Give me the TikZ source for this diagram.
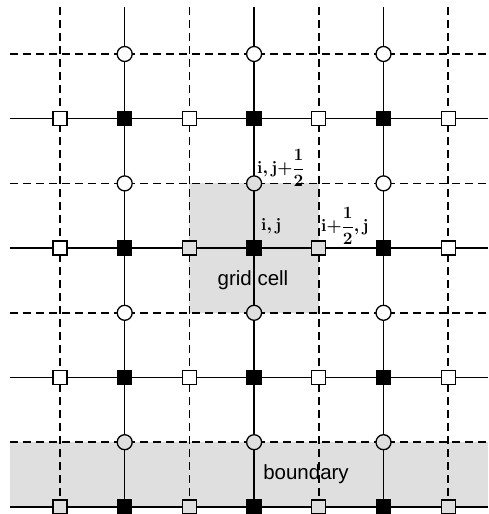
\documentclass[tikz,border=0pt]{standalone}
\usepackage[no-math]{fontspec}
\setmainfont{Liberation Sans}
\usepackage{amsmath}
\begin{document}
\begin{tikzpicture}[x=1pt,y=-1pt,
  solidline/.style={line width=1.5pt},
  dashline/.style={line width=1.5pt,dash pattern=on 8pt off 5pt},
  sq/.style={draw,line width=1.3pt,minimum size=14pt,inner sep=0pt,rectangle,fill=white},
  sqgray/.style={sq,fill=gray!25},
  sqblack/.style={sq,fill=black},
  circ/.style={draw,line width=1.3pt,minimum size=15pt,inner sep=0pt,circle,fill=white},
  circgray/.style={circ,fill=gray!25},
  lbl/.style={font=\fontsize{20.5}{24}\selectfont,inner sep=0pt},
  mlbl/.style={font=\fontsize{16}{19}\selectfont\boldmath,inner sep=0pt}
]
\useasboundingbox (0,0) rectangle (488,514);
\def\dx{64.7}
% grey areas
\fill[gray!25] (189.4,183.4) rectangle (318.8,312.8);
\fill[gray!25] (10,442.2) rectangle (488,506.9);
% dashed verticals and dashed horizontals
\foreach \i in {0,2,4,6} {
  \coordinate (dvt\i) at ({60+\i*\dx},7);
  \coordinate (dvb\i) at ({60+\i*\dx},506.9);
  \draw[dashline] (dvt\i) -- (dvb\i);
  \coordinate (dhl\i) at (10,{54+\i*\dx});
  \coordinate (dhr\i) at (488,{54+\i*\dx});
  \draw[dashline] (dhl\i) -- (dhr\i);
}
% solid verticals and solid horizontals
\foreach \i in {1,3,5} {
  \coordinate (svt\i) at ({60+\i*\dx},7);
  \coordinate (svb\i) at ({60+\i*\dx},506.9);
  \draw[solidline] (svt\i) -- (svb\i);
}
\foreach \j in {1,3,5,7} {
  \coordinate (shl\j) at (10,{54+\j*\dx});
  \coordinate (shr\j) at (488,{54+\j*\dx});
  \draw[solidline] (shl\j) -- (shr\j);
}
% black squares
\foreach \i in {1,3,5} \foreach \j in {1,3,5,7}
  \node[sqblack] (b\i\j) at ({60+\i*\dx},{54+\j*\dx}) {};
% open squares
\foreach \i in {0,2,4,6} \foreach \j in {1,3,5} {
  \ifnum\j=3
    \ifnum\i=2 \node[sqgray] (s\i\j) at ({60+\i*\dx},{54+\j*\dx}) {};
    \else\ifnum\i=4 \node[sqgray] (s\i\j) at ({60+\i*\dx},{54+\j*\dx}) {};
    \else \node[sq] (s\i\j) at ({60+\i*\dx},{54+\j*\dx}) {};
    \fi\fi
  \else
    \node[sq] (s\i\j) at ({60+\i*\dx},{54+\j*\dx}) {};
  \fi
}
\foreach \i in {0,2,4,6}
  \node[sqgray] (s\i7) at ({60+\i*\dx},{54+7*\dx}) {};
% circles
\foreach \i in {1,3,5} \foreach \j in {0,2,4} {
  \ifnum\i=3
    \ifnum\j=0 \node[circ] (c\i\j) at ({60+\i*\dx},{54+\j*\dx}) {};
    \else \node[circgray] (c\i\j) at ({60+\i*\dx},{54+\j*\dx}) {};
    \fi
  \else
    \node[circ] (c\i\j) at ({60+\i*\dx},{54+\j*\dx}) {};
  \fi
}
\foreach \i in {1,3,5}
  \node[circgray] (c\i6) at ({60+\i*\dx},{54+6*\dx}) {};
% labels
\node[mlbl,anchor=west] (l1) at (257,168) {$\mathbf{i},\mathbf{j}{+}\dfrac{1}{2}$};
\node[mlbl,anchor=west] (l2) at (261,226) {$\mathbf{i},\mathbf{j}$};
\node[mlbl,anchor=west] (l3) at (321,226) {$\mathbf{i}{+}\dfrac{1}{2},\mathbf{j}$};
\node[lbl] (gc) at (253,280) {grid cell};
\node[lbl] (bd) at (306,474) {boundary};
\end{tikzpicture}
\end{document}
